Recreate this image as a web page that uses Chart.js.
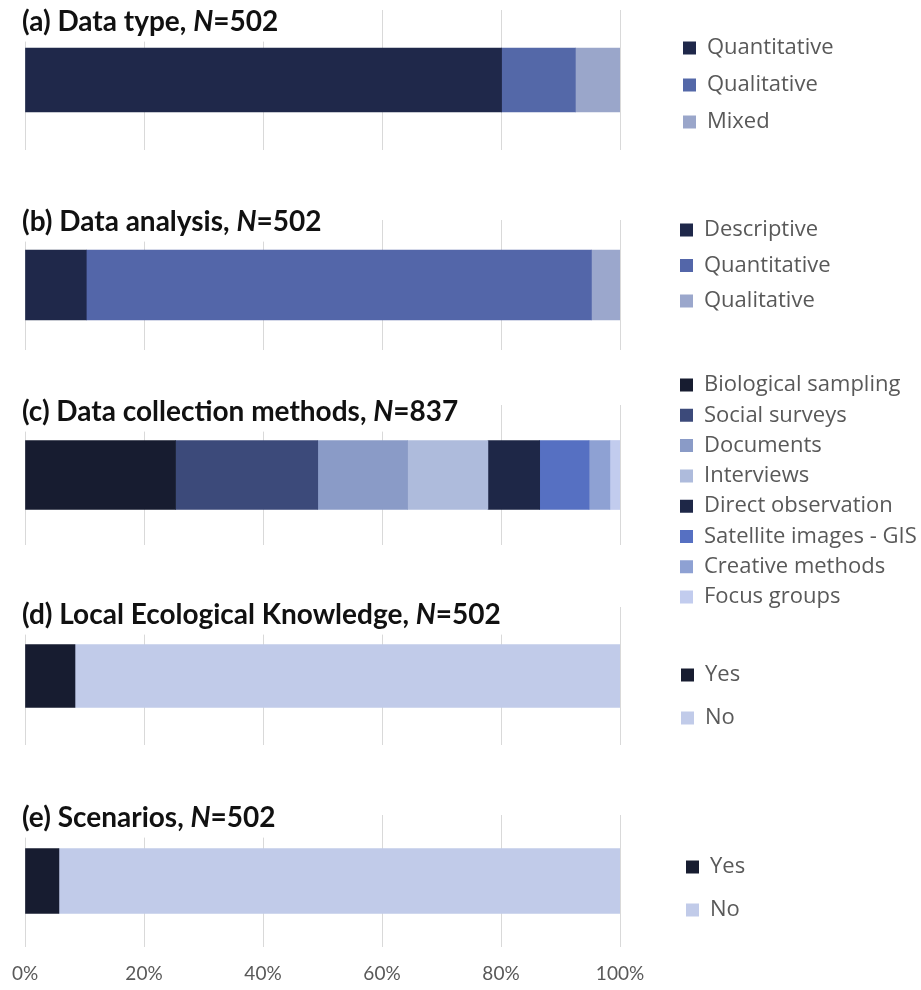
<!DOCTYPE html>
<html>
<head>
<meta charset="utf-8">
<script src="https://cdn.jsdelivr.net/npm/chart.js@4.4.1/dist/chart.umd.min.js"></script>
<style>
  html, body { margin: 0; padding: 0; background: #ffffff; }
  #wrap { position: relative; width: 921px; height: 990px; overflow: hidden; background: #ffffff; }
  #wrap canvas { position: absolute; left: 0; top: 0; }
</style>
</head>
<body>
<div id="wrap">
  <canvas id="pa" width="921" height="990"></canvas>
  <canvas id="pb" width="921" height="990"></canvas>
  <canvas id="pc" width="921" height="990"></canvas>
  <canvas id="pd" width="921" height="990"></canvas>
  <canvas id="pe" width="921" height="990"></canvas>
</div>
<script>
// ---------- DATA (percent of studies) ----------
const xTickLabels = ['0%', '20%', '40%', '60%', '80%', '100%'];

const typeLabels = ['Quantitative', 'Qualitative', 'Mixed'];
const typeValues = [80.1, 12.4, 7.5];

const analysisLabels = ['Descriptive', 'Quantitative', 'Qualitative'];
const analysisValues = [10.3, 84.9, 4.8];

const collectionLabels = ['Biological sampling', 'Social surveys', 'Documents', 'Interviews',
  'Direct observation', 'Satellite images - GIS', 'Creative methods', 'Focus groups'];
const collectionValues = [25.3, 23.9, 15.1, 13.5, 8.7, 8.3, 3.5, 1.7];

const lekLabels = ['Yes', 'No'];
const lekValues = [8.4, 91.6];

const scenarioLabels = ['Yes', 'No'];
const scenarioValues = [5.7, 94.3];

// ---------- STYLES ----------
const typeColors = ['#1f284a', '#5468a8', '#9aa6ca'];
const analysisColors = ['#1f284a', '#5366a9', '#9ba7cc'];
const collectionColors = ['#171c30', '#3c4a7a', '#8a9bc7', '#aebbdc', '#1e2747', '#5670c2', '#8ea1d3', '#c2ccee'];
const yesNoColors = ['#171c30', '#c1cbe9'];

const W = 921, H = 990;
const PLOT_LEFT = 25, PLOT_RIGHT = 620;

const panelTitlePlugin = {
  id: 'panelTitle',
  afterDraw(chart, args, o) {
    if (!o || !o.segments) return;
    const ctx = chart.ctx;
    ctx.save();
    ctx.textBaseline = 'middle';
    ctx.textAlign = 'left';
    const fontFor = s => (s.italic ? 'italic ' : '') + 'bold ' + o.size + 'px ' + o.family;
    let w = 0;
    o.segments.forEach(s => { ctx.font = fontFor(s); w += ctx.measureText(s.text).width; });
    ctx.fillStyle = '#ffffff';
    ctx.fillRect(o.x - 4, o.y - o.size * 0.7, w + 10, o.size * 1.4);
    ctx.fillStyle = o.color;
    let x = o.x;
    o.segments.forEach(s => {
      ctx.font = fontFor(s);
      ctx.fillText(s.text, x, o.y);
      x += ctx.measureText(s.text).width;
    });
    ctx.restore();
  }
};

const legendPlacePlugin = {
  id: 'legendPlace',
  afterLayout(chart, args, o) {
    const lg = chart.legend;
    if (!lg || !o || o.x == null) return;
    const lab = lg.options.labels;
    const pad = lab.padding;
    const fs = lab.font.size;
    const ih = Math.max(fs, lab.boxHeight);
    lg.left = o.x - pad;
    lg.top = o.y - pad - ih / 2;
    lg.right = chart.width;
    lg.bottom = chart.height;
    lg.width = lg.right - lg.left;
    lg.height = lg.bottom - lg.top;
  }
};

function makePanel(cfg) {
  const datasets = cfg.labels.map((lab, i) => ({
    label: lab,
    data: [cfg.values[i]],
    backgroundColor: cfg.colors[i],
    borderWidth: 0,
    barThickness: cfg.barThickness
  }));
  const tickFont = { family: 'Lato', size: 19 };
  const chart = new Chart(document.getElementById(cfg.id), {
    type: 'bar',
    data: { labels: [''], datasets },
    plugins: [panelTitlePlugin, legendPlacePlugin],
    options: {
      indexAxis: 'y',
      responsive: false,
      animation: false,
      devicePixelRatio: 1,
      layout: {
        padding: { left: PLOT_LEFT, right: W - PLOT_RIGHT, top: cfg.gridTop, bottom: H - cfg.gridBottom }
      },
      scales: {
        x: {
          stacked: true,
          min: 0,
          max: 100,
          afterFit: (s) => { s.paddingLeft = 0; s.paddingRight = 0; },
          ticks: {
            stepSize: 20,
            display: cfg.showTicks,
            padding: 15,
            color: '#595959',
            font: tickFont,
            maxRotation: 0,
            callback: (v, i) => xTickLabels[i]
          },
          grid: { color: '#d9d9d9', lineWidth: 1, drawTicks: false },
          border: { display: false }
        },
        y: { stacked: true, display: false }
      },
      plugins: {
        tooltip: { enabled: false },
        title: { display: false },
        legend: {
          position: 'chartArea',
          align: 'start',
          labels: {
            boxWidth: 13,
            boxHeight: 13,
            padding: cfg.legendSpacing - 22,
            color: '#595959',
            font: { family: 'Open Sans', size: 22 }
          }
        },
        legendPlace: { x: cfg.legendX, y: cfg.legendY },
        panelTitle: {
          x: 22, y: cfg.titleY, size: 28, family: 'Lato', color: '#111111',
          segments: [
            { text: cfg.title }, { text: 'N', italic: true }, { text: '=' + cfg.n }
          ]
        }
      }
    }
  });
  // pin the plot area to the target box
  const ca = chart.chartArea;
  const p = chart.options.layout.padding;
  p.left += PLOT_LEFT - ca.left;
  p.right += ca.right - PLOT_RIGHT;
  p.top += cfg.gridTop - ca.top;
  p.bottom += ca.bottom - cfg.gridBottom;
  chart.update();
  return chart;
}

makePanel({ id: 'pa', title: '(a) Data type, ', n: '502', labels: typeLabels, values: typeValues, colors: typeColors,
  gridTop: 10, gridBottom: 150, barThickness: 64, titleY: 22, legendX: 683, legendY: 48, legendSpacing: 37, showTicks: false });
makePanel({ id: 'pb', title: '(b) Data analysis, ', n: '502', labels: analysisLabels, values: analysisValues, colors: analysisColors,
  gridTop: 220, gridBottom: 350, barThickness: 70, titleY: 222, legendX: 680, legendY: 230, legendSpacing: 35.5, showTicks: false });
makePanel({ id: 'pc', title: '(c) Data collection methods, ', n: '837', labels: collectionLabels, values: collectionValues, colors: collectionColors,
  gridTop: 405, gridBottom: 545, barThickness: 69, titleY: 412, legendX: 680, legendY: 385, legendSpacing: 30.3, showTicks: false });
makePanel({ id: 'pd', title: '(d) Local Ecological Knowledge, ', n: '502', labels: lekLabels, values: lekValues, colors: yesNoColors,
  gridTop: 607, gridBottom: 745, barThickness: 63, titleY: 615, legendX: 681, legendY: 675, legendSpacing: 43, showTicks: false });
makePanel({ id: 'pe', title: '(e) Scenarios, ', n: '502', labels: scenarioLabels, values: scenarioValues, colors: yesNoColors,
  gridTop: 815, gridBottom: 947, barThickness: 65, titleY: 818, legendX: 686, legendY: 867, legendSpacing: 43, showTicks: true });
</script>
</body>
</html>
